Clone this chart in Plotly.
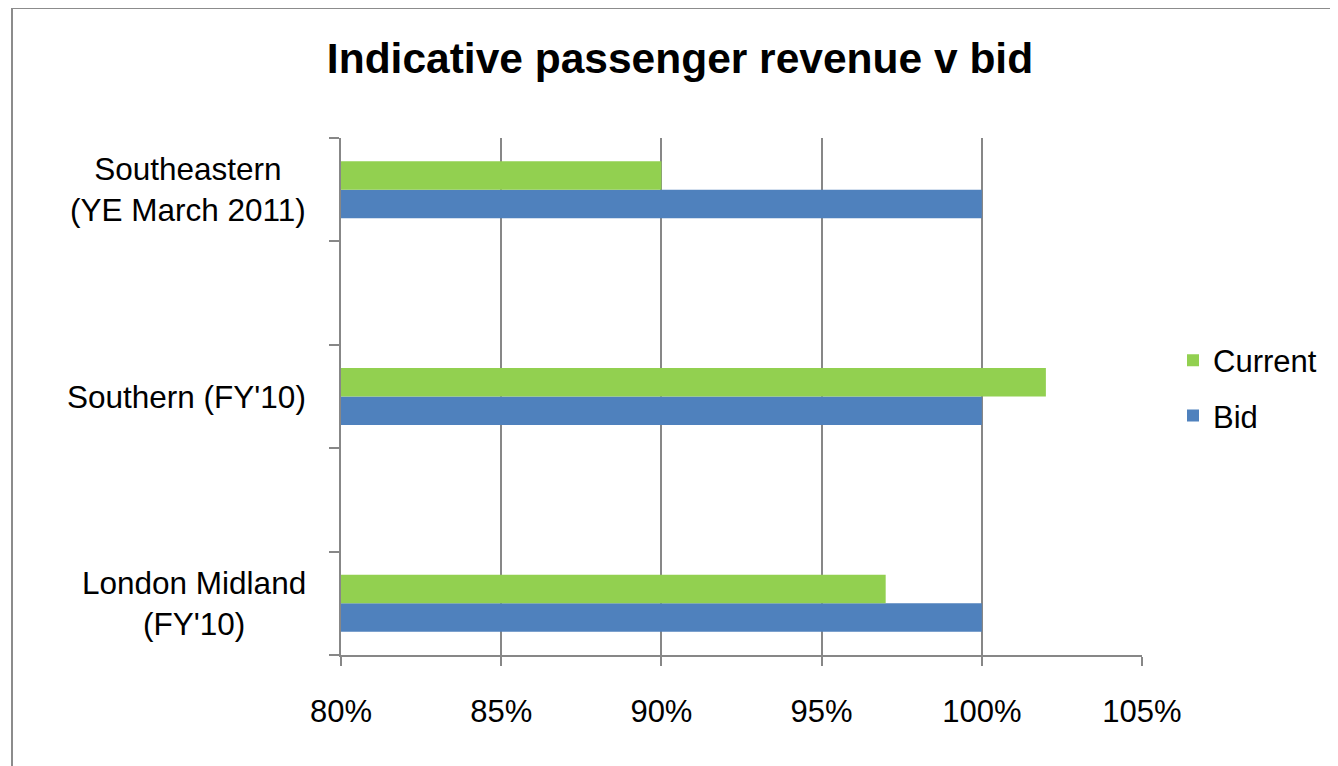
import plotly.graph_objects as go

# Categories listed bottom-to-top (blank rows separate the groups, as in the source sheet)
categories = ["London Midland<br>(FY'10)", " ", "Southern (FY'10)", "  ", "Southeastern<br>(YE March 2011)"]
bid = [1.00, None, 1.00, None, 1.00]
current = [0.97, None, 1.02, None, 0.90]
x_ticks = [0.80, 0.85, 0.90, 0.95, 1.00, 1.05]
title_text = "Indicative passenger revenue v bid"

OFF = 8  # default page body margin
W, H = 1338 - OFF, 766 - OFF
L, R, T, B = 341 - OFF, 1142 - OFF, 138 - OFF, 655 - OFF
FONT = "Liberation Sans, Arial, sans-serif"
GRID = "#878787"

fig = go.Figure()
fig.add_trace(go.Bar(y=categories, x=bid, orientation="h", name="Bid",
                     marker=dict(color="#4F81BD", line=dict(width=0)),
                     legendgroup="b", legendrank=2))
fig.add_trace(go.Bar(y=categories, x=current, orientation="h", name="Current",
                     marker=dict(color="#92D050", line=dict(width=0)),
                     legendgroup="c", legendrank=1))

def px_x(px):
    return (px - OFF - L) / (R - L)

def px_y(py):
    return (B - (py - OFF)) / (B - T)

annotations = []
for cat in categories:
    if cat.strip():
        annotations.append(dict(text=cat, x=px_x(308), xref="paper", xanchor="right",
                                y=cat, yref="y", yanchor="middle", align="center",
                                showarrow=False, font=dict(family=FONT, size=31.5, color="#000")))

fig.update_layout(
    width=W, height=H,
    margin=dict(l=L, r=W - R, t=T, b=H - B, pad=0),
    paper_bgcolor="white", plot_bgcolor="white",
    barmode="group", bargap=0.45, bargroupgap=0,
    title=dict(text="<b>" + title_text + "</b>", x=(680 - OFF) / W, xanchor="center",
               y=1 - (58 - OFF) / H, yanchor="middle",
               font=dict(family=FONT, size=42.5, color="#000")),
    xaxis=dict(range=[0.80, 1.05], tickvals=x_ticks, tickformat=".0%",
               showgrid=True, gridcolor=GRID, gridwidth=2,
               showline=True, linecolor=GRID, linewidth=2,
               ticks="outside", ticklen=9, tickwidth=2, tickcolor=GRID,
               zeroline=False, tickfont=dict(family=FONT, size=31, color="#000"),
               ticklabelstandoff=19, fixedrange=True),
    yaxis=dict(type="category", categoryorder="array", categoryarray=categories,
               tickson="boundaries", ticks="outside", ticklen=10, tickwidth=2, tickcolor=GRID,
               showticklabels=False, showgrid=False,
               showline=True, linecolor=GRID, linewidth=2, fixedrange=True),
    legend=dict(x=px_x(1173), xanchor="left", y=px_y(388), yanchor="middle",
                traceorder="grouped", tracegroupgap=12,
                font=dict(family=FONT, size=31, color="#000"),
                bgcolor="rgba(0,0,0,0)"),
    annotations=annotations,
    shapes=[
        dict(type="line", xref="paper", yref="paper", x0=px_x(11), x1=px_x(1400),
             y0=px_y(8), y1=px_y(8), line=dict(color="#8c8c8c", width=2)),
        dict(type="line", xref="paper", yref="paper", x0=px_x(12), x1=px_x(12),
             y0=px_y(7), y1=px_y(800), line=dict(color="#8c8c8c", width=2)),
    ],
)

fig.write_html("out.html")
